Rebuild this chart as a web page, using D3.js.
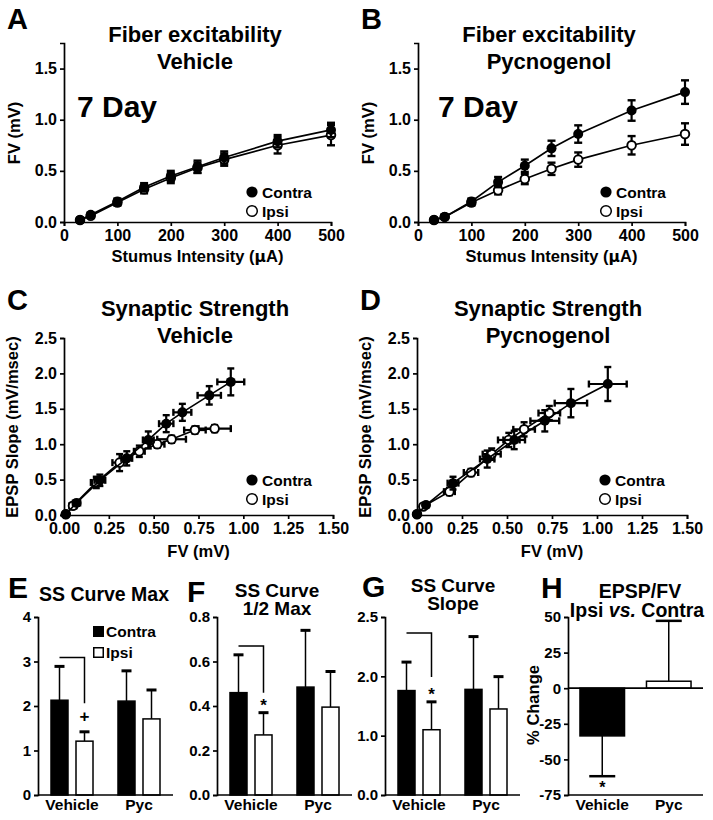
<!DOCTYPE html>
<html><head><meta charset="utf-8">
<script src="https://cdn.jsdelivr.net/npm/d3@7"></script>
<style>
body{margin:0;background:#fff;}
svg{display:block;}
</style></head><body>
<svg id="fig" width="713" height="820"></svg>
<script>
// ---------------- DATA ----------------
const stimulusUA = [30,50,100,150,200,250,300,400,500];
const fvVehContra    = [0.02,0.07,0.20,0.34,0.45,0.54,0.63,0.79,0.90];
const fvVehContraErr = [0.01,0.02,0.03,0.04,0.05,0.06,0.06,0.06,0.07];
const fvVehIpsi      = [0.02,0.06,0.19,0.32,0.43,0.53,0.61,0.75,0.85];
const fvVehIpsiErr   = [0.01,0.02,0.03,0.04,0.05,0.05,0.06,0.08,0.10];
const fvPycContra    = [0.02,0.05,0.20,0.39,0.55,0.72,0.86,1.09,1.27];
const fvPycContraErr = [0.01,0.02,0.03,0.05,0.06,0.075,0.085,0.10,0.115];
const fvPycIpsi      = [0.02,0.05,0.19,0.31,0.42,0.52,0.61,0.75,0.86];
const fvPycIpsiErr   = [0.01,0.02,0.03,0.04,0.05,0.06,0.07,0.09,0.105];

const ssVehContraFV      = [0.01,0.07,0.20,0.35,0.47,0.57,0.66,0.81,0.93];
const ssVehContraFVErr   = [0.01,0.02,0.03,0.03,0.03,0.04,0.05,0.065,0.075];
const ssVehContraEPSP    = [0.01,0.17,0.49,0.80,1.06,1.29,1.45,1.69,1.88];
const ssVehContraEPSPErr = [0.01,0.04,0.08,0.10,0.12,0.12,0.12,0.13,0.19];
const ssVehIpsiFV        = [0.01,0.05,0.18,0.31,0.42,0.52,0.60,0.73,0.84];
const ssVehIpsiFVErr     = [0.01,0.02,0.03,0.04,0.03,0.04,0.08,0.06,0.09];
const ssVehIpsiEPSP      = [0.01,0.13,0.46,0.74,0.90,1.00,1.07,1.20,1.22];
const ssVehIpsiEPSPErr   = [0.01,0.04,0.08,0.12,0.08,0.05,0.05,0.05,0.05];

const ssPycContraFV      = [0.00,0.05,0.20,0.39,0.54,0.71,0.855,1.06];
const ssPycContraFVErr   = [0.01,0.01,0.03,0.04,0.06,0.08,0.09,0.105];
const ssPycContraEPSP    = [0.01,0.14,0.45,0.79,1.06,1.33,1.58,1.85];
const ssPycContraEPSPErr = [0.01,0.03,0.09,0.12,0.13,0.15,0.20,0.24];
const ssPycIpsiFV        = [0.00,0.035,0.18,0.30,0.415,0.51,0.595,0.735];
const ssPycIpsiFVErr     = [0.01,0.01,0.03,0.04,0.05,0.06,0.06,0.06];
const ssPycIpsiEPSP      = [0.01,0.12,0.33,0.60,0.86,1.06,1.21,1.44];
const ssPycIpsiEPSPErr   = [0.01,0.03,0.05,0.05,0.08,0.10,0.10,0.10];

const groups = ["Vehicle","Pyc"];
const seriesNames = ["Contra","Ipsi"];
const maxContra = [2.13,2.11], maxContraErr = [0.76,0.68];
const maxIpsi   = [1.21,1.71], maxIpsiErr   = [0.21,0.65];
const halfContra = [0.46,0.485], halfContraErr = [0.17,0.255];
const halfIpsi   = [0.27,0.395], halfIpsiErr   = [0.10,0.16];
const slopeContra = [1.76,1.78], slopeContraErr = [0.48,0.89];
const slopeIpsi   = [1.10,1.45], slopeIpsiErr   = [0.47,0.545];
const pctChange = [-33.5,4.9], pctChangeErr = [28.3,42.4];

// tick values / labels
const fvTicks = [0,0.5,1.0,1.5], fvTickLabels = ["0.0","0.5","1.0","1.5"];
const stimTicks = [0,100,200,300,400,500], stimTickLabels = ["0","100","200","300","400","500"];
const epspTicks = [0,0.5,1,1.5,2,2.5], epspTickLabels = ["0.0","0.5","1.0","1.5","2.0","2.5"];
const fvXTicks = [0,0.25,0.5,0.75,1,1.25,1.5], fvXTickLabels = ["0.00","0.25","0.50","0.75","1.00","1.25","1.50"];
const maxTicks = [0,1,2,3,4], maxTickLabels = ["0","1","2","3","4"];
const halfTicks = [0,0.2,0.4,0.6,0.8], halfTickLabels = ["0.0","0.2","0.4","0.6","0.8"];
const slopeTicks = [0,1,2,3], slopeTickLabels = ["0.0","1.0","2.0","2.5"];
const pctTicks = [50,25,0,-25,-50,-75], pctTickLabels = ["50","25","0","-25","-50","-75"];

// significance annotations (data units) for E, F, G
const sigTop = [3.09,0.67,2.73];
const sigBottom = [2.06,0.46,1.99];
const sigMark = ["+","*","*"];
const sigMarkY = [1.77,0.42,1.75];
const hSigMarkY = -68.5;

// ---------------- DRAW ----------------
const FONT = '"Liberation Sans", Arial, Helvetica, sans-serif';
const svg = d3.select("#fig").attr("font-family",FONT).attr("font-weight","bold");
svg.append("rect").attr("width",713).attr("height",820).attr("fill","#fff");

function txt(x,y,s,fs,anchor){
  return svg.append("text").attr("x",x).attr("y",y).attr("font-size",fs)
    .attr("font-weight","bold").attr("font-family",FONT).attr("text-anchor",anchor||"middle").attr("fill","#000").text(s);
}
function vtxt(x,y,s,fs){
  return svg.append("text").attr("transform",`translate(${x},${y}) rotate(-90)`)
    .attr("font-size",fs).attr("font-weight","bold").attr("font-family",FONT)
    .attr("text-anchor","middle").attr("dominant-baseline","central").attr("fill","#000").text(s);
}
function styleAxis(g,fs){
  g.attr("font-family",FONT);
  g.selectAll("path.domain").attr("stroke","#000").attr("stroke-width",1.7);
  g.selectAll(".tick line").attr("stroke","#000").attr("stroke-width",1.7);
  g.selectAll(".tick text").attr("fill","#000").attr("font-size",fs).attr("font-weight","bold");
}
function yAxis(x0,scale,vals,labels,fs){
  const g = svg.append("g").attr("transform",`translate(${x0},0)`)
    .call(d3.axisLeft(scale).tickValues(vals).tickFormat((d,i)=>labels[i]).tickSizeOuter(0).tickSize(4).tickPadding(3));
  styleAxis(g,fs); return g;
}
function xAxis(y0,scale,vals,labels,fs){
  const g = svg.append("g").attr("transform",`translate(0,${y0})`)
    .call(d3.axisBottom(scale).tickValues(vals).tickFormat((d,i)=>labels[i]).tickSizeOuter(0).tickSize(4).tickPadding(4));
  styleAxis(g,fs); return g;
}
function legendCircles(cx,cy1,cy2){
  svg.append("circle").attr("cx",cx).attr("cy",cy1).attr("r",5.6).attr("fill","#000");
  svg.append("circle").attr("cx",cx).attr("cy",cy2).attr("r",5.3).attr("fill","#fff").attr("stroke","#000").attr("stroke-width",1.5);
  txt(cx+10,cy1+5.5,"Contra",15.5,"start");
  txt(cx+10,cy2+5.5,"Ipsi",15.5,"start");
}
function drawSeries(x,y,xs,ys,xe,ye,filled,capW){
  const g = svg.append("g");
  const pts = xs.map((d,i)=>({x:d,y:ys[i],xe:xe?xe[i]:0,ye:ye[i]}));
  g.append("path").datum(pts).attr("fill","none").attr("stroke","#000").attr("stroke-width",1.7)
    .attr("d",d3.line().x(d=>x(d.x)).y(d=>y(d.y)));
  pts.forEach(d=>{
    const cx=x(d.x), cy=y(d.y);
    const y1=y(d.y-d.ye), y2=y(d.y+d.ye);
    if (Math.abs(y1-y2)>3){
      g.append("line").attr("x1",cx).attr("x2",cx).attr("y1",y1).attr("y2",y2).attr("stroke","#000").attr("stroke-width",2.2);
      [y1,y2].forEach(yy=>g.append("line").attr("x1",cx-capW/2).attr("x2",cx+capW/2).attr("y1",yy).attr("y2",yy).attr("stroke","#000").attr("stroke-width",2.4));
    }
    if (d.xe){
      const x1=x(d.x-d.xe), x2=x(d.x+d.xe);
      if (Math.abs(x2-x1)>3){
        g.append("line").attr("x1",x1).attr("x2",x2).attr("y1",cy).attr("y2",cy).attr("stroke","#000").attr("stroke-width",2.2);
        [x1,x2].forEach(xx=>g.append("line").attr("x1",xx).attr("x2",xx).attr("y1",cy-capW/2).attr("y2",cy+capW/2).attr("stroke","#000").attr("stroke-width",2.4));
      }
    }
  });
  pts.forEach(d=>{
    g.append("circle").attr("cx",x(d.x)).attr("cy",y(d.y)).attr("r",filled?5:4.3)
      .attr("fill",filled?"#000":"#fff").attr("stroke","#000").attr("stroke-width",filled?0:1.9);
  });
}

// ---- Panels A & B ----
function fvPanel(x0,x1,letter,sub,dayX,contra,contraErr,ipsi,ipsiErr){
  const x = d3.scaleLinear().domain([0,500]).range([x0,x1]);
  const y = d3.scaleLinear().domain([0,1.75]).range([222,43]);
  yAxis(x0,y,fvTicks,fvTickLabels,16);
  xAxis(222,x,stimTicks,stimTickLabels,16);
  drawSeries(x,y,stimulusUA,ipsi,null,ipsiErr,false,8);
  drawSeries(x,y,stimulusUA,contra,null,contraErr,true,8);
  txt(x0-57,29,letter,29,"start");
  txt(x0+131,42,"Fiber excitability",22);
  txt(x0+131,69,sub,22);
  txt(dayX,117,"7 Day",30,"start");
  legendCircles(x0+188,192,211);
  vtxt(x0-50,133,"FV (mV)",16.5);
  const t = txt((x0+x1)/2,262,"",16.5);
  t.append("tspan").text("Stumus Intensity (");
  t.append("tspan").attr("font-family","DejaVu Sans").attr("font-size",15.5).text("μ");
  t.append("tspan").text("A)");
}
fvPanel(64,331,"A","Vehicle",77,fvVehContra,fvVehContraErr,fvVehIpsi,fvVehIpsiErr);
fvPanel(418,685,"B","Pycnogenol",438,fvPycContra,fvPycContraErr,fvPycIpsi,fvPycIpsiErr);

// ---- Panels C & D ----
function ssPanel(x0,x1,letter,sub,cFV,cFVe,cE,cEe,iFV,iFVe,iE,iEe){
  const x = d3.scaleLinear().domain([0,1.5]).range([x0,x1]);
  const y = d3.scaleLinear().domain([0,2.5]).range([515,338]);
  yAxis(x0,y,epspTicks,epspTickLabels,16);
  xAxis(515,x,fvXTicks,fvXTickLabels,16);
  drawSeries(x,y,iFV,iE,iFVe,iEe,false,7);
  drawSeries(x,y,cFV,cE,cFVe,cEe,true,7);
  txt(x0-57,310,letter,29,"start");
  txt(x0+131,316,"Synaptic Strength",22);
  txt(x0+131,343,sub,22);
  legendCircles(x0+188,480,499);
  vtxt(x0-52,427,"EPSP Slope (mV/msec)",16.5);
  txt((x0+x1)/2,557,"FV (mV)",16.5);
}
ssPanel(64,333,"C","Vehicle",ssVehContraFV,ssVehContraFVErr,ssVehContraEPSP,ssVehContraEPSPErr,
        ssVehIpsiFV,ssVehIpsiFVErr,ssVehIpsiEPSP,ssVehIpsiEPSPErr);
ssPanel(417,687,"D","Pycnogenol",ssPycContraFV,ssPycContraFVErr,ssPycContraEPSP,ssPycContraEPSPErr,
        ssPycIpsiFV,ssPycIpsiFVErr,ssPycIpsiEPSP,ssPycIpsiEPSPErr);

// ---- Panels E, F, G ----
function barPanel(idx,x0,domain,ticks,labels,contra,contraErr,ipsi,ipsiErr){
  const x = d3.scaleBand().domain(groups).range([x0,x0+135]).paddingInner(0.373).paddingOuter(0.194);
  const xs = d3.scaleBand().domain(seriesNames).range([0,x.bandwidth()]).paddingInner(0.32);
  const y = d3.scaleLinear().domain(domain).range([795,617]);
  const vals = {Contra:[contra,contraErr], Ipsi:[ipsi,ipsiErr]};
  const g = svg.append("g");
  groups.forEach((grp,gi)=>{
    seriesNames.forEach(s=>{
      const v = vals[s][0][gi], e = vals[s][1][gi];
      const bx = x(grp)+xs(s), bw = xs.bandwidth(), cx = bx+bw/2;
      g.append("line").attr("x1",cx).attr("x2",cx).attr("y1",y(v)).attr("y2",y(v+e)).attr("stroke","#000").attr("stroke-width",1.5);
      g.append("line").attr("x1",cx-5).attr("x2",cx+5).attr("y1",y(v+e)).attr("y2",y(v+e)).attr("stroke","#000").attr("stroke-width",3);
      g.append("rect").attr("x",bx).attr("y",y(v)).attr("width",bw).attr("height",y(0)-y(v))
        .attr("fill",s==="Contra"?"#000":"#fff").attr("stroke","#000").attr("stroke-width",1.5);
    });
    txt(x(grp)+x.bandwidth()/2,810,grp,15.5);
  });
  yAxis(x0,y,ticks,labels,15);
  g.append("line").attr("x1",x0).attr("x2",x0+135).attr("y1",y(0)).attr("y2",y(0)).attr("stroke","#000").attr("stroke-width",1.7);
  const lx = x(groups[0])+xs("Contra")+xs.bandwidth()/2;
  const rx = x(groups[0])+xs("Ipsi")+xs.bandwidth()/2;
  g.append("path").attr("d",`M${lx},${y(sigTop[idx])}H${rx}V${y(sigBottom[idx])}`)
    .attr("fill","none").attr("stroke","#000").attr("stroke-width",1.5);
  const m = sigMark[idx];
  txt(rx, y(sigMarkY[idx]) + (m==="*"?9:6), m, 17);
}
barPanel(0,38,[0,4],maxTicks,maxTickLabels,maxContra,maxContraErr,maxIpsi,maxIpsiErr);
barPanel(1,217,[0,0.8],halfTicks,halfTickLabels,halfContra,halfContraErr,halfIpsi,halfIpsiErr);
barPanel(2,385,[0,3],slopeTicks,slopeTickLabels,slopeContra,slopeContraErr,slopeIpsi,slopeIpsiErr);

// E legend
svg.append("rect").attr("x",93).attr("y",626).attr("width",11).attr("height",11).attr("fill","#000");
svg.append("rect").attr("x",93.75).attr("y",647.75).attr("width",9.5).attr("height",9.5).attr("fill","#fff").attr("stroke","#000").attr("stroke-width",1.5);
txt(106,637,"Contra",15.5,"start");
txt(106,658,"Ipsi",15.5,"start");

// titles & letters
txt(8,598,"E",30,"start");
txt(104,601,"SS Curve Max",19.5);
txt(187,602,"F",30,"start");
txt(277,597,"SS Curve",19);
txt(277,615,"1/2 Max",19);
txt(362,597,"G",30,"start");
txt(453,592,"SS Curve",19);
txt(453,610,"Slope",19);
txt(541,598,"H",30,"start");
txt(640,598,"EPSP/FV",19.5);
{
  const t = txt(637,617,"",19.5,"middle");
  t.append("tspan").text("Ipsi ");
  t.append("tspan").attr("font-style","italic").text("vs.");
  t.append("tspan").text(" Contra");
}

// ---- Panel H ----
{
  const x0 = 568;
  const x = d3.scaleBand().domain(groups).range([x0,x0+135]).paddingInner(0.33).paddingOuter(0.18);
  const y = d3.scaleLinear().domain([-75,50]).range([795,617]);
  const g = svg.append("g");
  groups.forEach((grp,gi)=>{
    const v = pctChange[gi], e = pctChangeErr[gi];
    const bx = x(grp), bw = x.bandwidth(), cx = bx+bw/2;
    const tip = v<0 ? v-e : v+e;
    g.append("line").attr("x1",cx).attr("x2",cx).attr("y1",y(v)).attr("y2",y(tip)).attr("stroke","#000").attr("stroke-width",1.5);
    g.append("line").attr("x1",cx-13).attr("x2",cx+13).attr("y1",y(tip)).attr("y2",y(tip)).attr("stroke","#000").attr("stroke-width",2.5);
    g.append("rect").attr("x",bx).attr("y",y(Math.max(0,v))).attr("width",bw).attr("height",Math.abs(y(v)-y(0)))
      .attr("fill",gi===0?"#000":"#fff").attr("stroke","#000").attr("stroke-width",1.5);
    txt(cx,810,grp,15.5);
  });
  yAxis(x0,y,pctTicks,pctTickLabels,15);
  g.append("line").attr("x1",x0).attr("x2",x0+135).attr("y1",y(0)).attr("y2",y(0)).attr("stroke","#000").attr("stroke-width",1.7);
  g.append("line").attr("x1",x0).attr("x2",x0+135).attr("y1",y(-75)).attr("y2",y(-75)).attr("stroke","#000").attr("stroke-width",1.7);
  const vx = x(groups[0])+x.bandwidth()/2;
  txt(vx, y(hSigMarkY)+7, "*", 16);
  vtxt(533,705,"% Change",16.5);
}
</script>
</body></html>
